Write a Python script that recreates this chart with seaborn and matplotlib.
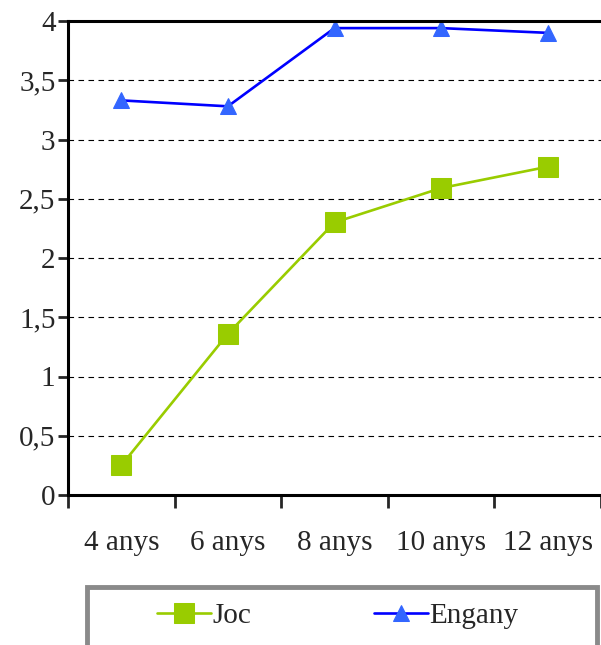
import matplotlib
matplotlib.use("Agg")
import matplotlib.pyplot as plt
from matplotlib.patches import Rectangle
import seaborn as sns
import pandas as pd

categories = ["4 anys", "6 anys", "8 anys", "10 anys", "12 anys"]
joc = [0.25, 1.36, 2.30, 2.59, 2.77]
engany = [3.33, 3.28, 3.94, 3.94, 3.90]
y_ticks = [0, 0.5, 1, 1.5, 2, 2.5, 3, 3.5, 4]
y_labels = ["0", "0,5", "1", "1,5", "2", "2,5", "3", "3,5", "4"]

df = pd.DataFrame({
    "edat": categories * 2,
    "x": list(range(len(categories))) * 2,
    "valor": joc + engany,
    "serie": ["Joc"] * len(joc) + ["Engany"] * len(engany),
})

sns.set_style("white")
plt.rcParams["font.family"] = ["Liberation Serif", "DejaVu Serif"]
FS = 21

fig = plt.figure(figsize=(6.01, 6.45), dpi=100)
ax = fig.add_axes([68 / 601, 150 / 645, 533 / 601, 474 / 645])

for name, lc, mc, mk, ms in [("Joc", "#99CC00", "#99CC00", "s", 15),
                             ("Engany", "#0000FF", "#3366FF", "^", 12)]:
    sub = df[df["serie"] == name]
    sns.lineplot(data=sub, x="x", y="valor", ax=ax, color=lc, linewidth=1.9,
                 marker=mk, markersize=ms, markerfacecolor=mc,
                 markeredgecolor=mc, label=name, legend=False)

ax.set_xlim(-0.5, len(categories) - 0.5)
ax.set_ylim(0, 4)
ax.set_yticks(y_ticks)
ax.set_yticklabels(y_labels, fontsize=FS)
ax.set_xticks([i - 0.5 for i in range(len(categories) + 1)])
ax.set_xticklabels([])
ax.set_xticks(range(len(categories)), minor=True)
ax.set_xticklabels(categories, minor=True, fontsize=FS)
ax.tick_params(axis="x", which="minor", length=0, pad=25)
ax.tick_params(axis="x", which="major", length=9, width=2, direction="out", bottom=True)
ax.tick_params(axis="y", length=7, width=2, direction="out", left=True, pad=2)
ax.set_xlabel("")
ax.set_ylabel("")
for y in y_ticks[1:-1]:
    ax.axhline(y, color="black", linestyle=(0, (5, 4)), linewidth=0.8, zorder=0)
for s in ["left", "bottom", "top"]:
    ax.spines[s].set_visible(True)
    ax.spines[s].set_color("black")
    ax.spines[s].set_linewidth(2.2)
ax.spines["right"].set_visible(False)

# legend frame
fig.add_artist(Rectangle((87 / 601, -20 / 645), 510 / 601, 78 / 645,
                         transform=fig.transFigure, facecolor="white",
                         edgecolor="#8a8a8a", linewidth=3.5, zorder=1))

handles, labels = ax.get_legend_handles_labels()
leg = fig.legend(handles, labels, loc="center",
                 bbox_to_anchor=(338 / 601, 29 / 645),
                 ncol=2, fontsize=FS, frameon=False,
                 handlelength=1.85, handletextpad=0.05,
                 columnspacing=4.2, borderaxespad=0, borderpad=0)
leg.set_zorder(2)

fig.savefig("out.png", dpi=100)
